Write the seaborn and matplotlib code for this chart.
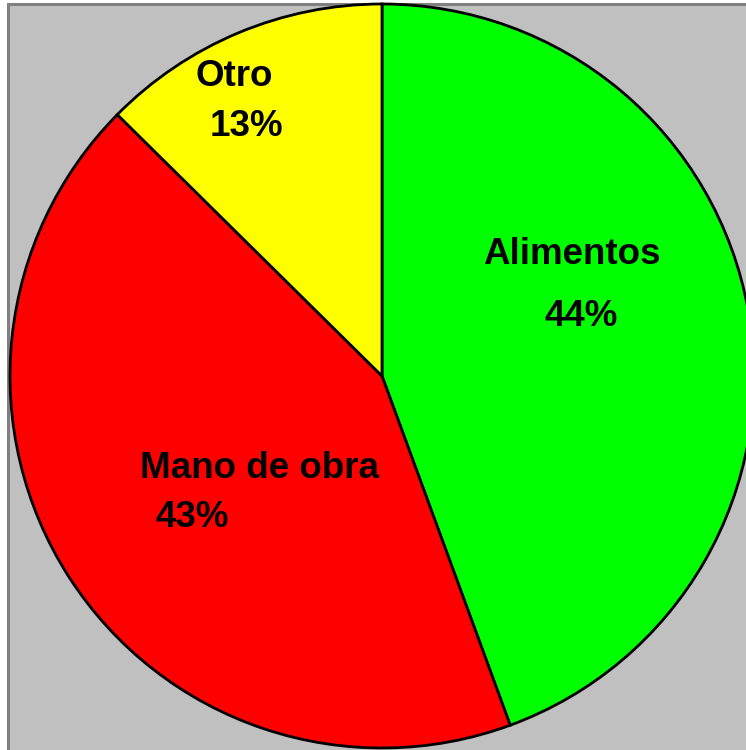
import matplotlib
matplotlib.use('Agg')
import matplotlib.pyplot as plt
import seaborn as sns
from matplotlib.patches import Rectangle

sns.set_theme(style='white')
plt.rcParams['font.family'] = ['Liberation Sans', 'DejaVu Sans']

categories = ['Alimentos', 'Mano de obra', 'Otro']
shares = [44.4, 43.0, 12.6]
pct_labels = ['44%', '43%', '13%']
colors = ['#00FF00', '#FF0000', '#FFFF00']

# label anchors (pixel coords, y measured from top)
name_pos = [(572, 264), (260, 478), (234, 86)]
pct_pos = [(581, 326), (192, 527), (246, 136)]

W, H = 746, 750
fig = plt.figure(figsize=(W / 100, H / 100), dpi=100)
fig.patch.set_facecolor('white')
ax = fig.add_axes([0, 0, 1, 1])

ax.add_patch(Rectangle((8, -5), 800, H - 4 + 5, facecolor='#C0C0C0',
                       edgecolor='#808080', linewidth=2.2, zorder=0))

ax.pie(shares, colors=colors, startangle=90, counterclock=False,
       center=(382, H - 376), radius=372, frame=True,
       wedgeprops=dict(edgecolor='black', linewidth=2.0))
ax.set_xlim(0, W)
ax.set_ylim(0, H)
ax.set_aspect('auto')
ax.axis('off')

for name, (x, y) in zip(categories, name_pos):
    ax.text(x, H - y, name, ha='center', va='baseline', fontsize=26.5,
            fontweight='bold', color='black')
for pct, (x, y) in zip(pct_labels, pct_pos):
    ax.text(x, H - y, pct, ha='center', va='baseline', fontsize=26.5,
            fontweight='bold', color='black')

fig.savefig('out.png', dpi=100)
